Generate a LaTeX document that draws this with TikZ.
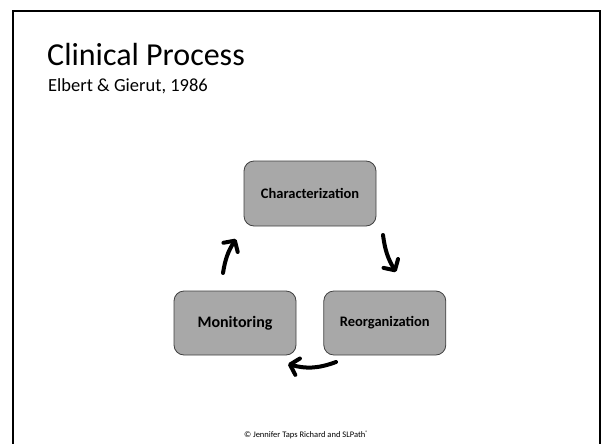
\documentclass[tikz,border=0pt]{standalone}
\usepackage{fontspec}
\setmainfont{Carlito}
\usetikzlibrary{arrows.meta, positioning}
\definecolor{boxgray}{HTML}{A8A8A8}
\definecolor{boxline}{HTML}{404040}
\tikzset{
    stage/.style={draw=boxline, fill=boxgray, rounded corners=10pt, line width=0.8pt,
        minimum width=122pt, minimum height=64pt, font=\bfseries},
    cycle/.style={line width=4pt, line cap=round,
        -{Straight Barb[length=8pt, width=17pt, line cap=round, line join=round]}}
}

\begin{document}
\begin{tikzpicture}[x=1pt, y=-1pt]
        \useasboundingbox (0,0) rectangle (602,444);
        % slide frame
        \draw[line width=2pt] (13,446) -- (13,11) -- (600,11) -- (600,446);
        \node[anchor=base west, inner sep=0pt, font=\fontsize{32}{36}\selectfont] (title) at (47,66) {Clinical Process};
        \node[anchor=base west, inner sep=0pt, font=\fontsize{18.5}{22}\selectfont] (cite) at (48,91) {Elbert \& Gierut, 1986};
        % the three stages
        \node[stage, minimum width=132pt, minimum height=65pt, font=\bfseries\fontsize{14.5}{16}\selectfont] (char) at (310,193.5) {Characterization};
        \node[stage, font=\bfseries\fontsize{16}{18}\selectfont] (mon) at (235,323) {Monitoring};
        \node[stage, right=27pt of mon, font=\bfseries\fontsize{14.5}{17}\selectfont] (reorg) {Reorganization};
        \coordinate (upA) at (223,273);
        \coordinate (upB) at (236,239);
        \coordinate (dnA) at (383,235);
        \coordinate (dnB) at (396,272);
        \coordinate (lfA) at (336,362);
        \coordinate (lfB) at (288,364);
        \draw[cycle] (upA) to[bend left=12] (upB);
        \draw[cycle] (dnA) to[bend right=12] (dnB);
        \draw[cycle] (lfA) to[bend left=18] (lfB);
        \node[inner sep=0pt, font=\fontsize{8.5}{10}\selectfont] (copy) at (306,435) {© Jennifer Taps Richard and SLPath{\fontsize{5}{6}\selectfont\raisebox{2.5pt}{®}}};
    \end{tikzpicture}
\end{document}
